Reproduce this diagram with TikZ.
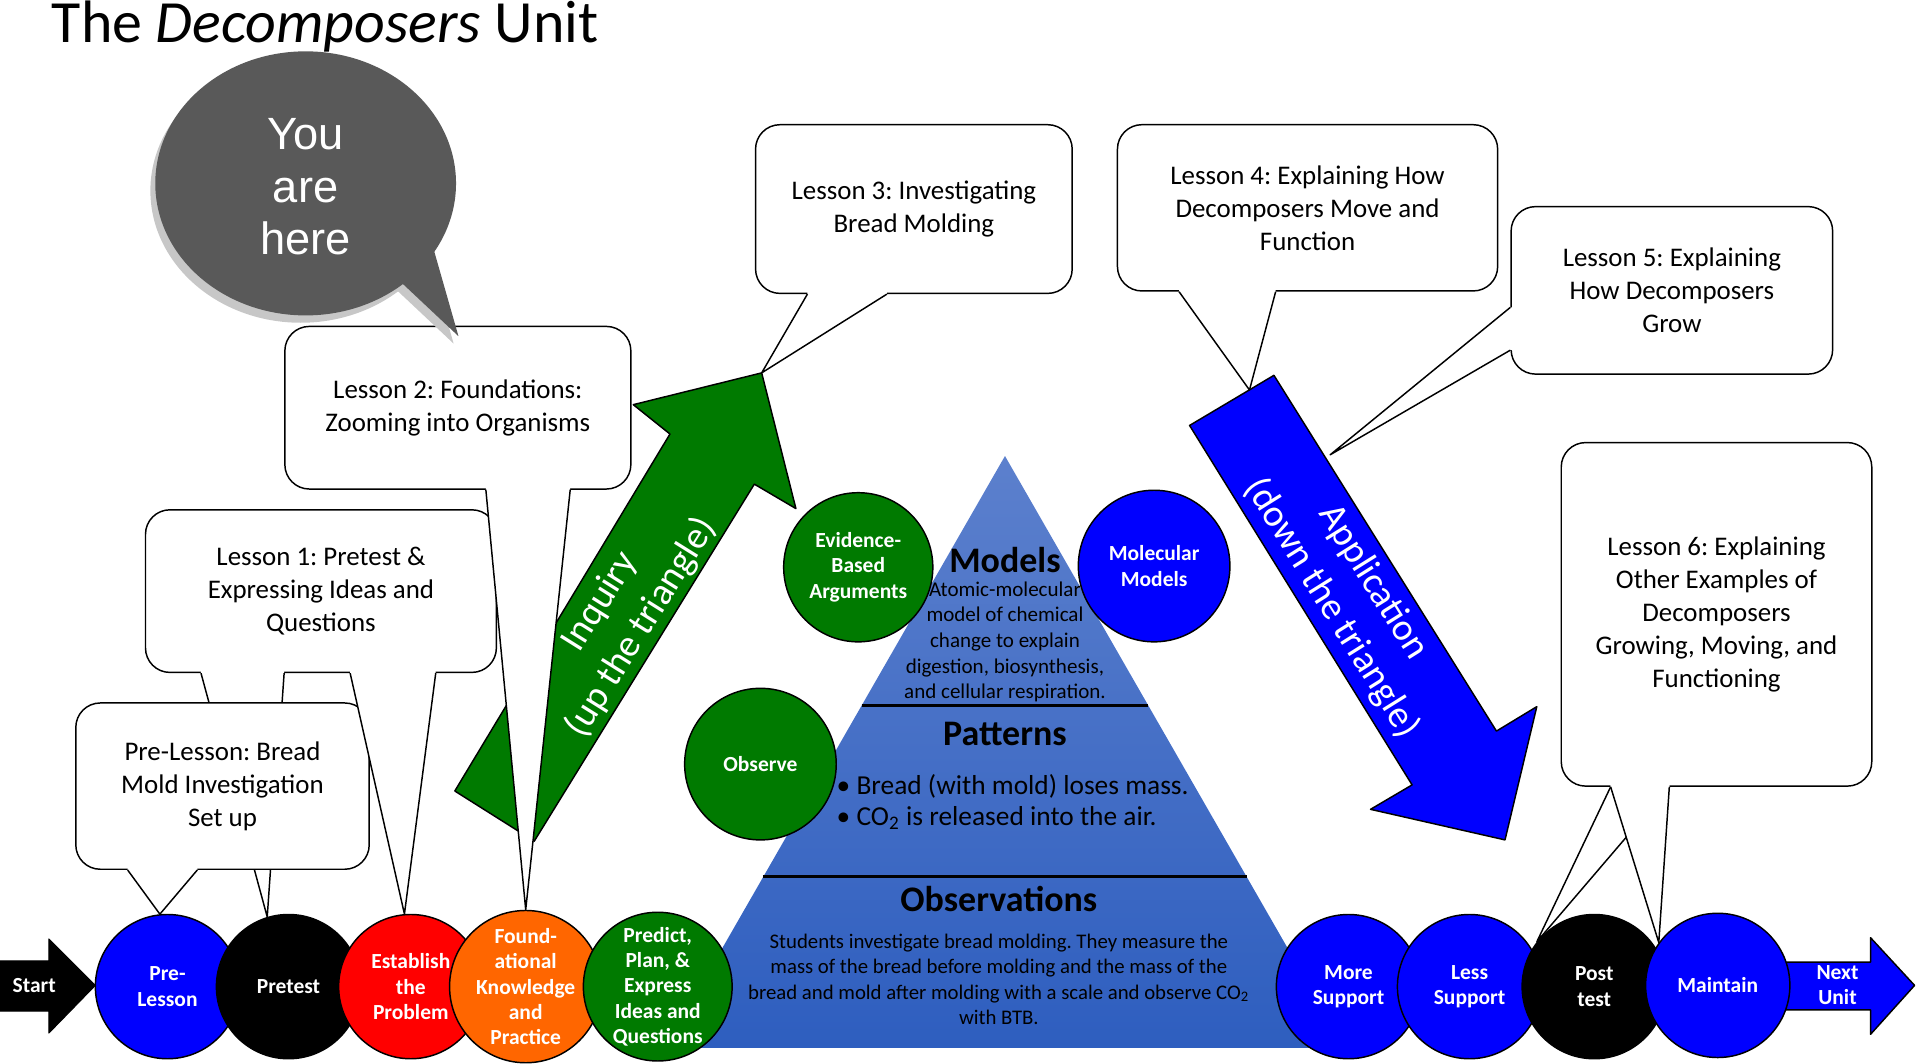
\documentclass[tikz,border=0pt]{standalone}
\usepackage{fontspec}
\setmainfont{Carlito}
\newfontfamily\arialfont{Liberation Sans}
\usepackage{tikz}
\frenchspacing

\definecolor{pblue}{RGB}{0,0,255}
\definecolor{porange}{RGB}{255,102,0}
\definecolor{pgreen}{RGB}{0,122,0}
\definecolor{ptop}{RGB}{92,128,205}
\definecolor{pbot}{RGB}{46,94,191}
\definecolor{bubble}{RGB}{89,89,89}

\begin{document}
\begin{tikzpicture}
	[x=0.5pt, y=-0.5pt, line join=round,
	lesson/.style = {draw, fill=white, line width=0.6pt, rounded corners=10pt, inner sep=0pt, align=center, font=\fontsize{11}{13.5}\selectfont},
	stage/.style = {draw, circle, fill=pblue, line width=0.6pt, minimum size=59pt, inner sep=0pt, align=center, text=white, font=\bfseries\fontsize{8.8}{10.3}\selectfont},
	head/.style = {text=white, align=center, font=\fontsize{15.6}{20}\selectfont},
	level/.style = {font=\bfseries\fontsize{14.7}{17}\selectfont},
	tail/.style = {line width=0.6pt}]
	\useasboundingbox (0,0) rectangle (1568,870);
	\node[anchor=base west, inner sep=0pt, font=\fontsize{24.5}{28}\selectfont] (title) at (42,35) {The \textit{Decomposers} Unit};

	\shade[top color=ptop, bottom color=pbot] (822,373) -- (1100,857) -- (544,857) -- cycle;
	\draw[line width=0.9pt] (704.7,577) -- (939.3,577);
	\draw[line width=0.9pt] (624,717) -- (1020,717);
	\node[level] (models) at (822,458) {Models};
	\node[align=center, font=\fontsize{8.6}{10.5}\selectfont] (modtxt) at (822,525) {Atomic-molecular\\model of chemical\\change to explain\\digestion, biosynthesis,\\and cellular respiration.};
	\node[level] (pat) at (822,600) {Patterns};
	\node[anchor=west, inner sep=0pt, align=left, font=\fontsize{11.2}{13}\selectfont] (pattxt) at (684,656) {\textbullet\ Bread (with mold) loses mass.\\\textbullet\ CO\textsubscript{2} is released into the air.};
	\node[level] (obs) at (817,735) {Observations};
	\node[align=center, font=\fontsize{8.5}{10.4}\selectfont] (obstxt) at (817,801) {Students investigate bread molding. They measure the\\mass of the bread before molding and the mass of the\\bread and mold after molding with a scale and observe CO\textsubscript{2}\\with BTB.};

	\coordinate (gtip) at (623,305);
	\filldraw[fill=pgreen, line width=0.6pt] (372,647) -- (548,355) -- (518,331) -- (gtip) -- (651,416) -- (617,396) -- (437,688) -- cycle;
	\node[head, rotate=58] (inq) at (508,503) {Inquiry\\(up the triangle)};
	\coordinate (btop) at (1022,319);
	\coordinate (bside) at (1088,372);
	\filldraw[fill=pblue, line width=0.6pt] (973,348) -- (1042,307) -- (1224,598) -- (1257,578) -- (1231,687) -- (1121,662) -- (1155,642) -- cycle;
	\node[head, rotate=-58] (app) at (1106,487) {Application\\(down the triangle)};

	\filldraw[fill=black] (0,786) -- (40,786) -- (40,768) -- (78,806) -- (40,845) -- (40,827) -- (0,827) -- cycle;
	\node[text=white, font=\bfseries\fontsize{8.8}{10.3}\selectfont] (start) at (28,806) {Start};
	\filldraw[fill=pblue, line width=0.6pt] (1455,787) -- (1530,787) -- (1530,767) -- (1566,806) -- (1530,846) -- (1530,826) -- (1455,826) -- cycle;
	\node[text=white, align=center, font=\bfseries\fontsize{8.8}{10.3}\selectfont] (next) at (1503,806) {Next\\Unit};

	\node[stage] (eba) [fill=pgreen, minimum size=61pt] at (702,464) {Evidence-\\Based\\Arguments};
	\node[stage] (mm) [minimum size=62pt] at (944,463) {Molecular\\Models};
	\node[stage] (obsv) [fill=pgreen, minimum size=62pt] at (622,625) {Observe};
	\node[stage] (pre) at (137,807) {Pre-\\Lesson};
	\node[stage] (pt) [fill=black] at (236,807) {Pretest};
	\node[stage] (est) [fill=red] at (336,807) {Establish\\the\\Problem};
	\node[stage] (fk) [fill=porange] at (430,807) {Found-\\ational\\Knowledge\\and\\Practice};
	\node[stage] (ppe) [fill=pgreen] at (538,807) {Predict,\\Plan, \&\\Express\\Ideas and\\Questions};
	\node[stage] (ms) at (1103,807) {More\\Support};
	\node[stage] (ls) at (1202,807) {Less\\Support};
	\node[stage] (pst) [fill=black] at (1304,807) {Post\\test};
	\node[stage] (mt) at (1405,806) {Maintain};

	\node[lesson, minimum width=143.5pt, minimum height=66.5pt] (l1) at (262.5,483.5) {Lesson 1: Pretest \&\\Expressing Ideas and\\Questions};
	\fill[white] ([xshift=23pt,yshift=1pt]l1.south west) -- ([xshift=23pt]l1.south west) -- (pt.107) -- ([xshift=57pt]l1.south west) -- ([xshift=57pt,yshift=1pt]l1.south west) -- cycle;
	\draw[tail] ([xshift=23pt]l1.south west) -- (pt.107) -- ([xshift=57pt]l1.south west);
	\node[lesson, minimum width=120pt, minimum height=68pt] (pl) at (182,643) {Pre-Lesson: Bread\\Mold Investigation\\Set up};
	\fill[white] ([xshift=21.5pt,yshift=1pt]pl.south west) -- ([xshift=21.5pt]pl.south west) -- (pre.96) -- ([xshift=50pt]pl.south west) -- ([xshift=50pt,yshift=1pt]pl.south west) -- cycle;
	\draw[tail] ([xshift=21.5pt]pl.south west) -- (pre.96) -- ([xshift=50pt]pl.south west);
	\fill[white] ([xshift=84pt,yshift=1pt]l1.south west) -- ([xshift=84pt]l1.south west) -- (est.95) -- ([xshift=119pt]l1.south west) -- ([xshift=119pt,yshift=1pt]l1.south west) -- cycle;
	\draw[tail] ([xshift=84pt]l1.south west) -- (est.95) -- ([xshift=119pt]l1.south west);

	\node[lesson, minimum width=141.5pt, minimum height=66.5pt] (l2) at (374.5,333.5) {Lesson 2: Foundations:\\Zooming into Organisms};
	\fill[white] ([xshift=82.5pt,yshift=1pt]l2.south west) -- ([xshift=82.5pt]l2.south west) -- (fk.north) -- ([xshift=117pt]l2.south west) -- ([xshift=117pt,yshift=1pt]l2.south west) -- cycle;
	\draw[tail] ([xshift=82.5pt]l2.south west) -- (fk.north) -- ([xshift=117pt]l2.south west);

	\node[lesson, minimum width=129.5pt, minimum height=69pt] (l3) at (747.5,171) {Lesson 3: Investigating\\Bread Molding};
	\fill[white] ([xshift=21.5pt,yshift=1pt]l3.south west) -- ([xshift=21.5pt]l3.south west) -- (gtip) -- ([xshift=54pt]l3.south west) -- ([xshift=54pt,yshift=1pt]l3.south west) -- cycle;
	\draw[tail] ([xshift=21.5pt]l3.south west) -- (gtip) -- ([xshift=54pt]l3.south west);

	\node[lesson, minimum width=155.5pt, minimum height=68pt] (l4) at (1069.5,170) {Lesson 4: Explaining How\\Decomposers Move and\\Function};
	\fill[white] ([xshift=25.5pt,yshift=1pt]l4.south west) -- ([xshift=25.5pt]l4.south west) -- (btop) -- ([xshift=65pt]l4.south west) -- ([xshift=65pt,yshift=1pt]l4.south west) -- cycle;
	\draw[tail] ([xshift=25.5pt]l4.south west) -- (btop) -- ([xshift=65pt]l4.south west);

	\node[lesson, minimum width=131.5pt, minimum height=68.5pt] (l5) at (1367.5,237.5) {Lesson 5: Explaining\\How Decomposers\\Grow};
	\fill[white] ([xshift=1pt,yshift=-41.5pt]l5.north west) -- ([yshift=-41.5pt]l5.north west) -- (bside) -- ([yshift=-59pt]l5.north west) -- ([xshift=1pt,yshift=-59pt]l5.north west) -- cycle;
	\draw[tail] ([yshift=-41.5pt]l5.north west) -- (bside) -- ([yshift=-59pt]l5.north west);

	\node[lesson, minimum width=127pt, minimum height=140.5pt] (l6) at (1404,502.5) {Lesson 6: Explaining\\Other Examples of\\Decomposers\\Growing, Moving, and\\Functioning};
	\fill[white] ([xshift=20.5pt,yshift=1pt]l6.south west) -- ([xshift=20.5pt]l6.south west) -- (pst.142) -- ([xshift=44.5pt]l6.south west) -- ([xshift=44.5pt,yshift=1pt]l6.south west) -- cycle;
	\draw[tail] ([xshift=20.5pt]l6.south west) -- (pst.142) -- ([xshift=44.5pt]l6.south west);
	\fill[white] ([xshift=20.5pt,yshift=1pt]l6.south west) -- ([xshift=20.5pt]l6.south west) -- (mt.144) -- ([xshift=44.5pt]l6.south west) -- ([xshift=44.5pt,yshift=1pt]l6.south west) -- cycle;
	\draw[tail] ([xshift=20.5pt]l6.south west) -- (mt.144) -- ([xshift=44.5pt]l6.south west);

	\fill[black!22] (246,156) ellipse [x radius=123, y radius=108];
	\fill[black!22] (321,234) -- (371,281) -- (351,211) -- cycle;
	\fill[bubble] (250,150) ellipse [x radius=123, y radius=108];
	\fill[bubble] (325,228) -- (375,275) -- (355,205) -- cycle;
	\node[text=white, align=center, font=\arialfont\fontsize{18.5}{21.5}\selectfont] (here) at (250,153) {You\\are\\here};
\end{tikzpicture}
\end{document}
